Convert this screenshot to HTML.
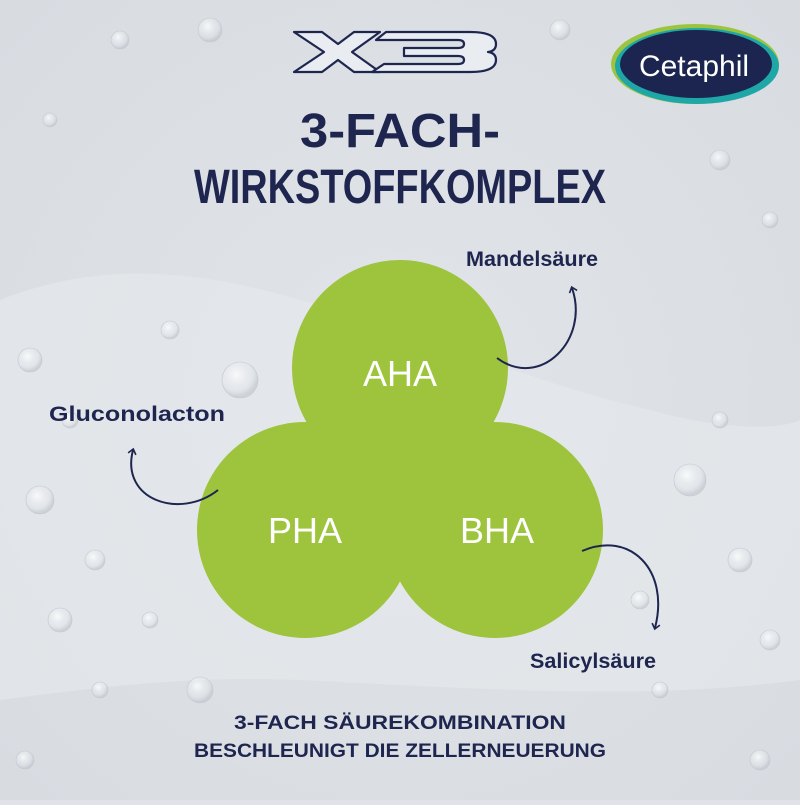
<!DOCTYPE html>
<html><head><meta charset="utf-8"><style>
html,body{margin:0;padding:0}
body{width:800px;height:800px;overflow:hidden;background:#dfe3e8}
</style></head><body>
<svg width="800" height="800" viewBox="0 0 800 800" xmlns="http://www.w3.org/2000/svg">
<defs>
<radialGradient id="bg" cx="50%" cy="50%" r="70%">
<stop offset="0" stop-color="#e1e4e8"/><stop offset="1" stop-color="#d8dce1"/>
</radialGradient>
<radialGradient id="bub" cx="40%" cy="35%" r="60%">
<stop offset="0" stop-color="#ffffff" stop-opacity="0.8"/><stop offset="0.7" stop-color="#e6e9ed" stop-opacity="0.3"/><stop offset="1" stop-color="#b8bec6" stop-opacity="0.5"/>
</radialGradient>
<marker id="ah" markerWidth="10" markerHeight="10" refX="5" refY="5" orient="auto" markerUnits="userSpaceOnUse">
<path d="M1,1 L6,5 L1,9" fill="none" stroke="#1e2650" stroke-width="1.6"/>
</marker>
</defs>
<rect width="800" height="800" fill="url(#bg)"/>
<path d="M0,300 C100,260 200,270 300,300 C420,330 520,380 650,410 C720,430 780,430 800,420 L800,680 C650,700 500,690 300,680 C180,675 80,690 0,700 Z" fill="#e6e9ec" opacity="0.6"/>
<g fill="url(#bub)" stroke="#c4c9d0" stroke-width="0.6">
<circle cx="30" cy="360" r="12"/><circle cx="70" cy="420" r="8"/><circle cx="40" cy="500" r="14"/><circle cx="95" cy="560" r="10"/><circle cx="150" cy="620" r="8"/><circle cx="60" cy="620" r="12"/><circle cx="200" cy="690" r="13"/><circle cx="100" cy="690" r="8"/><circle cx="240" cy="380" r="18"/><circle cx="170" cy="330" r="9"/><circle cx="690" cy="480" r="16"/><circle cx="740" cy="560" r="12"/><circle cx="640" cy="600" r="9"/><circle cx="770" cy="640" r="10"/><circle cx="720" cy="420" r="8"/><circle cx="120" cy="40" r="9"/><circle cx="210" cy="30" r="12"/><circle cx="560" cy="30" r="10"/><circle cx="720" cy="160" r="10"/><circle cx="770" cy="220" r="8"/><circle cx="50" cy="120" r="7"/><circle cx="660" cy="690" r="8"/><circle cx="25" cy="760" r="9"/><circle cx="760" cy="760" r="10"/>
</g>
<!-- X3 logo -->
<g fill="#e9ecf0" stroke="#1e2650" stroke-width="2.2" stroke-linejoin="round">
<path d="M294,32 L322,32 L338,44 L354,32 L380,32 L352,52 L380,72 L354,72 L338,60 L322,72 L294,72 L324,52 Z"/>
<path d="M386,32 L470,32 Q496,32 496,44 Q496,51 488,52 Q496,53 496,60 Q496,72 470,72 L372,72 L384,64 L458,64 Q464,64 464,60 Q464,56 458,56 L404,56 L404,48 L458,48 Q464,48 464,44 Q464,40 458,40 L376,40 Z"/>
</g>
<!-- Cetaphil logo -->
<ellipse cx="695" cy="64" rx="84" ry="40" fill="#9cc43c"/>
<ellipse cx="697" cy="66" rx="82" ry="38" fill="#1fa7a8"/>
<ellipse cx="696" cy="64" rx="76" ry="34" fill="#1b2550"/>
<text x="694" y="76" text-anchor="middle" font-family="Liberation Sans, sans-serif" font-size="30" fill="#fff">Cetaphil</text>
<g font-family="Liberation Sans, sans-serif" font-weight="bold" fill="#1e2650" text-anchor="middle">
<text x="400" y="147" font-size="48" textLength="200" lengthAdjust="spacingAndGlyphs">3-FACH-</text>
<text x="400" y="203" font-size="48" textLength="412" lengthAdjust="spacingAndGlyphs">WIRKSTOFFKOMPLEX</text>
<text x="532" y="266" font-size="21" textLength="132" lengthAdjust="spacingAndGlyphs">Mandelsäure</text>
<text x="137" y="421" font-size="21" textLength="176" lengthAdjust="spacingAndGlyphs">Gluconolacton</text>
<text x="593" y="668" font-size="21" textLength="126" lengthAdjust="spacingAndGlyphs">Salicylsäure</text>
<text x="400" y="729" font-size="19" textLength="332" lengthAdjust="spacingAndGlyphs">3-FACH SÄUREKOMBINATION</text>
<text x="400" y="757" font-size="19" textLength="412" lengthAdjust="spacingAndGlyphs">BESCHLEUNIGT DIE ZELLERNEUERUNG</text>
</g>
<g fill="#9dc43c">
<circle cx="400" cy="368" r="108"/>
<circle cx="305" cy="530" r="108"/>
<circle cx="495" cy="530" r="108"/>
<circle cx="400" cy="470" r="70"/>
</g>
<g font-family="Liberation Sans, sans-serif" font-size="36" fill="#fff" text-anchor="middle">
<text x="400" y="386">AHA</text>
<text x="305" y="543">PHA</text>
<text x="497" y="543">BHA</text>
</g>
<g fill="none" stroke="#1e2650" stroke-width="2" marker-end="url(#ah)">
<path d="M497,358 C540,390 590,340 572,288"/>
<path d="M218,490 C180,520 120,500 133,450"/>
<path d="M582,551 C630,530 670,570 655,628"/>
</g>
</svg>
</body></html>
